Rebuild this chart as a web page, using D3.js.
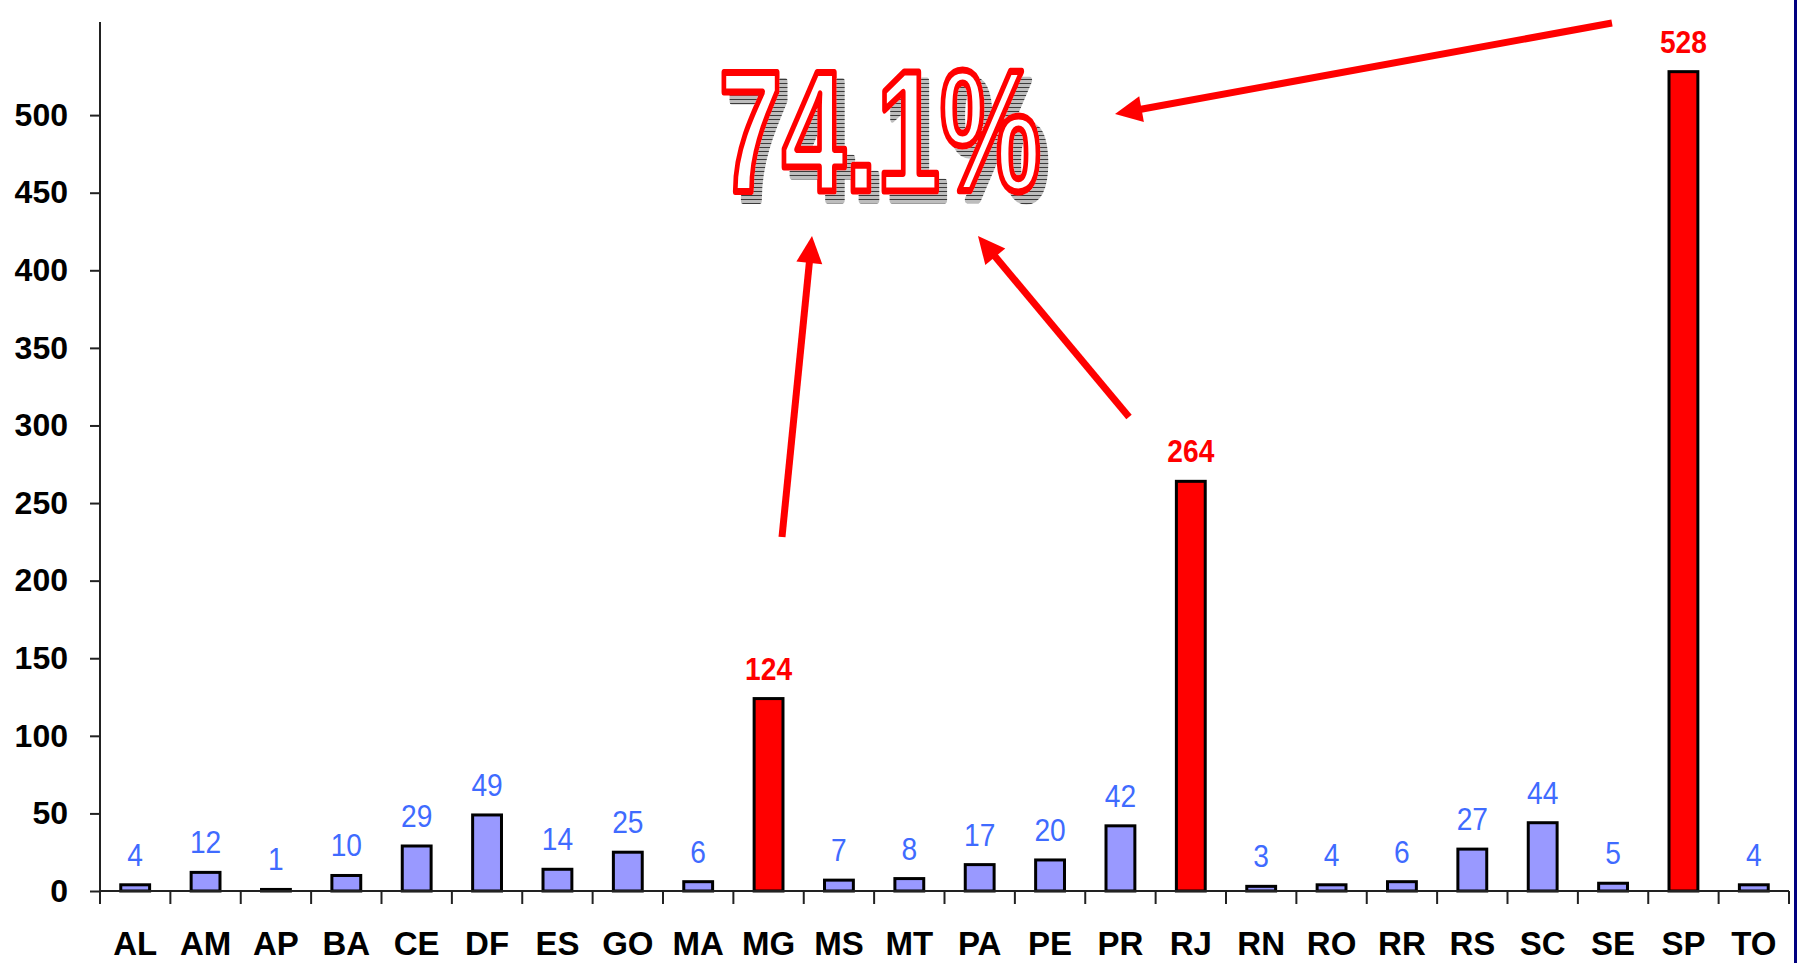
<!DOCTYPE html>
<html>
<head>
<meta charset="utf-8">
<script src="https://cdn.jsdelivr.net/npm/d3@7"></script>
<style>
  html, body { margin: 0; padding: 0; background: #fff; }
  svg { display: block; }
</style>
</head>
<body>
<svg id="chart" width="1797" height="963"></svg>
<script>
// Cases by state
const states = ["AL","AM","AP","BA","CE","DF","ES","GO","MA","MG","MS","MT","PA","PE","PR","RJ","RN","RO","RR","RS","SC","SE","SP","TO"];
const cases = [4,12,1,10,29,49,14,25,6,124,7,8,17,20,42,264,3,4,6,27,44,5,528,4];
const highlighted = ["MG","RJ","SP"];
const yTicks = [0,50,100,150,200,250,300,350,400,450,500];
const headline = "74.1%";

const W = 1797, H = 963;
const x0 = 100, x1 = 1789, yBase = 891, yTop = 22;

const svg = d3.select("#chart");

const x = d3.scaleBand().domain(states).range([x0, x1]).paddingInner(0).paddingOuter(0);
const y = d3.scaleLinear().domain([0, 560]).range([yBase, yTop]);
const barW = x.bandwidth() * 0.41;

const BLUE_FILL = "#9999FF", RED = "#FF0000", LABEL_BLUE = "#3F6BFF", AXIS = "#222";
const isHot = s => highlighted.includes(s);
const FONT = "'Liberation Sans', Arial, sans-serif";

// y axis
const yAxis = svg.append("g")
  .attr("transform", `translate(${x0},0)`)
  .call(d3.axisLeft(y).tickValues(yTicks).tickSize(10).tickSizeOuter(0).tickPadding(22));
yAxis.select(".domain").attr("stroke", AXIS).attr("stroke-width", 2)
  .attr("d", `M0,${yBase}V${yTop}`);
yAxis.selectAll(".tick line").attr("stroke", AXIS).attr("stroke-width", 2);
yAxis.selectAll(".tick text")
  .attr("fill", "#000").attr("font-family", FONT)
  .attr("font-size", 32).attr("font-weight", "bold");

// bars
svg.append("g").selectAll("rect").data(states).join("rect")
  .attr("x", d => x(d) + (x.bandwidth() - barW) / 2)
  .attr("y", (d, i) => y(cases[i]))
  .attr("width", barW)
  .attr("height", (d, i) => yBase - y(cases[i]))
  .attr("fill", d => isHot(d) ? RED : BLUE_FILL)
  .attr("stroke", "#000").attr("stroke-width", 3);

// x axis line and category boundary ticks
const xAxis = svg.append("g");
xAxis.append("line").attr("x1", x0).attr("x2", x1).attr("y1", yBase).attr("y2", yBase)
  .attr("stroke", AXIS).attr("stroke-width", 2);
const bounds = states.map(s => x(s)).concat([x1]);
xAxis.selectAll("line.tk").data(bounds).join("line").attr("class", "tk")
  .attr("x1", d => d).attr("x2", d => d).attr("y1", yBase).attr("y2", yBase + 13)
  .attr("stroke", AXIS).attr("stroke-width", 2);
xAxis.selectAll("text").data(states).join("text")
  .attr("x", d => x(d) + x.bandwidth() / 2).attr("y", 955)
  .attr("text-anchor", "middle")
  .attr("font-family", FONT)
  .attr("font-size", 33).attr("font-weight", "bold").attr("fill", "#000")
  .text(d => d);

// value labels
svg.append("g").selectAll("text").data(states).join("text")
  .attr("transform", (d, i) => `translate(${x(d) + x.bandwidth() / 2},${y(cases[i]) - 19}) scale(0.88,1)`)
  .attr("text-anchor", "middle")
  .attr("font-family", FONT)
  .attr("font-size", 32)
  .attr("font-weight", d => isHot(d) ? "bold" : "normal")
  .attr("fill", d => isHot(d) ? RED : LABEL_BLUE)
  .text((d, i) => cases[i]);

// headline share with a hatched drop shadow (filter)
const defs = svg.append("defs");
const f = defs.append("filter").attr("id", "hatchShadow")
  .attr("x", "-10%").attr("y", "-20%").attr("width", "130%").attr("height", "150%");
f.append("feFlood").attr("flood-color", "#3a3a3a").attr("x", 0).attr("y", 0)
  .attr("width", 4).attr("height", 4).attr("result", "dark");
f.append("feFlood").attr("flood-color", "#bdbdbd").attr("x", 1).attr("y", 1)
  .attr("width", 3).attr("height", 3).attr("result", "light");
const tm = f.append("feMerge").attr("x", 0).attr("y", 0).attr("width", 4).attr("height", 4).attr("result", "tileSrc");
tm.append("feMergeNode").attr("in", "dark");
tm.append("feMergeNode").attr("in", "light");
f.append("feTile").attr("in", "tileSrc").attr("result", "tiled");
f.append("feOffset").attr("in", "SourceAlpha").attr("dx", 12).attr("dy", 9).attr("result", "off");
f.append("feComposite").attr("in", "tiled").attr("in2", "off").attr("operator", "in").attr("result", "shadow");
const fm = f.append("feMerge");
fm.append("feMergeNode").attr("in", "shadow");
fm.append("feMergeNode").attr("in", "SourceGraphic");

svg.append("text").attr("transform", `translate(880,191) scale(0.66,1)`)
  .attr("text-anchor", "middle")
  .attr("font-family", FONT)
  .attr("font-size", 172).attr("font-weight", "bold")
  .attr("fill", "#fff").attr("stroke", RED)
  .attr("stroke-width", 6).attr("stroke-linejoin", "round")
  .attr("vector-effect", "non-scaling-stroke")
  .attr("filter", "url(#hatchShadow)")
  .text(headline);

// arrows pointing from the highlighted states to the headline
const arrows = [
  { from: [782, 537], to: [812, 236] },
  { from: [1129, 417], to: [978, 236] },
  { from: [1612, 23], to: [1115, 114] }
];
const headLen = 27, headHalf = 13;
const ag = svg.append("g");
arrows.forEach(a => {
  const [fx, fy] = a.from, [tx, ty] = a.to;
  const dx = tx - fx, dy = ty - fy, L = Math.hypot(dx, dy);
  const ux = dx / L, uy = dy / L, px = -uy, py = ux;
  const bx = tx - ux * headLen, by = ty - uy * headLen;
  ag.append("line").attr("x1", fx).attr("y1", fy).attr("x2", bx + ux * 2).attr("y2", by + uy * 2)
    .attr("stroke", RED).attr("stroke-width", 7);
  ag.append("path")
    .attr("d", d3.line()([[tx, ty], [bx + px * headHalf, by + py * headHalf], [bx - px * headHalf, by - py * headHalf]]) + "Z")
    .attr("fill", RED);
});

// frame edge on the right
svg.append("rect").attr("x", W - 3).attr("y", 0).attr("width", 3).attr("height", H).attr("fill", "#000080");
</script>
</body>
</html>
